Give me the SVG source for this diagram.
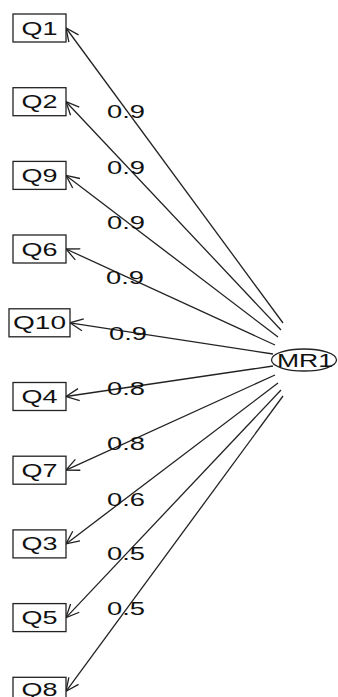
<svg xmlns="http://www.w3.org/2000/svg" width="338" height="697" viewBox="0 0 338 697">
  <style>
    .box { fill: #ffffff; stroke: #222; stroke-width: 1.3; }
    .fac { fill: #ffffff; stroke: #222; stroke-width: 1.3; }
    .edge { stroke: #222; stroke-width: 1.3; fill: none; marker-end: url(#arr); }
    text { font-family: "Liberation Sans", Arial, sans-serif; font-size: 18.5px; fill: #111; text-anchor: middle; }
  </style>
  <defs>
    <marker id="arr" markerUnits="userSpaceOnUse" markerWidth="16" markerHeight="14" refX="0" refY="0" orient="auto" viewBox="-15 -7 16 14" style="overflow:visible">
      <path d="M-13,-6 L0,0 L-13,6" fill="none" stroke="#222" stroke-width="1.3"/>
    </marker>
  </defs>
  <rect width="338" height="697" fill="#ffffff"/>

  <!-- loadings: factor to items -->
  <g id="connectors">
    <line class="edge" x1="283" y1="323" x2="66" y2="28"/>
    <line class="edge" x1="281" y1="330" x2="66" y2="101.7"/>
    <line class="edge" x1="278" y1="337" x2="66" y2="175.4"/>
    <line class="edge" x1="275" y1="345" x2="66" y2="249"/>
    <line class="edge" x1="273" y1="354" x2="70" y2="322.8"/>
    <line class="edge" x1="273" y1="366" x2="66" y2="396.5"/>
    <line class="edge" x1="275" y1="375" x2="66" y2="470.2"/>
    <line class="edge" x1="278" y1="383" x2="66" y2="543.9"/>
    <line class="edge" x1="281" y1="390" x2="66" y2="617.6"/>
    <line class="edge" x1="283" y1="396" x2="66" y2="691.3"/>
    <text x="126" y="118" textLength="38" lengthAdjust="spacingAndGlyphs">0.9</text>
    <text x="126" y="174" textLength="38" lengthAdjust="spacingAndGlyphs">0.9</text>
    <text x="126" y="229" textLength="38" lengthAdjust="spacingAndGlyphs">0.9</text>
    <text x="125" y="284" textLength="38" lengthAdjust="spacingAndGlyphs">0.9</text>
    <text x="128" y="340" textLength="38" lengthAdjust="spacingAndGlyphs">0.9</text>
    <text x="126" y="395" textLength="38" lengthAdjust="spacingAndGlyphs">0.8</text>
    <text x="126" y="450" textLength="38" lengthAdjust="spacingAndGlyphs">0.8</text>
    <text x="126" y="506" textLength="38" lengthAdjust="spacingAndGlyphs">0.6</text>
    <text x="126" y="560" textLength="38" lengthAdjust="spacingAndGlyphs">0.5</text>
    <text x="126" y="615" textLength="38" lengthAdjust="spacingAndGlyphs">0.5</text>
  </g>

  <g id="Q1"><rect class="box" x="13" y="14" width="53" height="28"/><text x="39.5" y="34.5" textLength="36" lengthAdjust="spacingAndGlyphs">Q1</text></g>
  <g id="Q2"><rect class="box" x="13" y="87.7" width="53" height="28"/><text x="39.5" y="108.2" textLength="36" lengthAdjust="spacingAndGlyphs">Q2</text></g>
  <g id="Q9"><rect class="box" x="13" y="161.4" width="53" height="28"/><text x="39.5" y="181.9" textLength="36" lengthAdjust="spacingAndGlyphs">Q9</text></g>
  <g id="Q6"><rect class="box" x="13" y="235" width="53" height="28"/><text x="39.5" y="255.5" textLength="36" lengthAdjust="spacingAndGlyphs">Q6</text></g>
  <g id="Q10"><rect class="box" x="9" y="308.8" width="61" height="28"/><text x="39.5" y="329.3" textLength="53" lengthAdjust="spacingAndGlyphs">Q10</text></g>
  <g id="Q4"><rect class="box" x="13" y="382.5" width="53" height="28"/><text x="39.5" y="403" textLength="36" lengthAdjust="spacingAndGlyphs">Q4</text></g>
  <g id="Q7"><rect class="box" x="13" y="456.2" width="53" height="28"/><text x="39.5" y="476.7" textLength="36" lengthAdjust="spacingAndGlyphs">Q7</text></g>
  <g id="Q3"><rect class="box" x="13" y="529.9" width="53" height="28"/><text x="39.5" y="550.4" textLength="36" lengthAdjust="spacingAndGlyphs">Q3</text></g>
  <g id="Q5"><rect class="box" x="13" y="603.6" width="53" height="28"/><text x="39.5" y="624.1" textLength="36" lengthAdjust="spacingAndGlyphs">Q5</text></g>
  <g id="Q8"><rect class="box" x="13" y="677.3" width="53" height="28"/><text x="39.5" y="696" textLength="36" lengthAdjust="spacingAndGlyphs">Q8</text></g>

  <g id="MR1"><ellipse class="fac" cx="304" cy="360" rx="32.5" ry="11"/><text x="305" y="366.5" textLength="56" lengthAdjust="spacingAndGlyphs">MR1</text></g>
</svg>
